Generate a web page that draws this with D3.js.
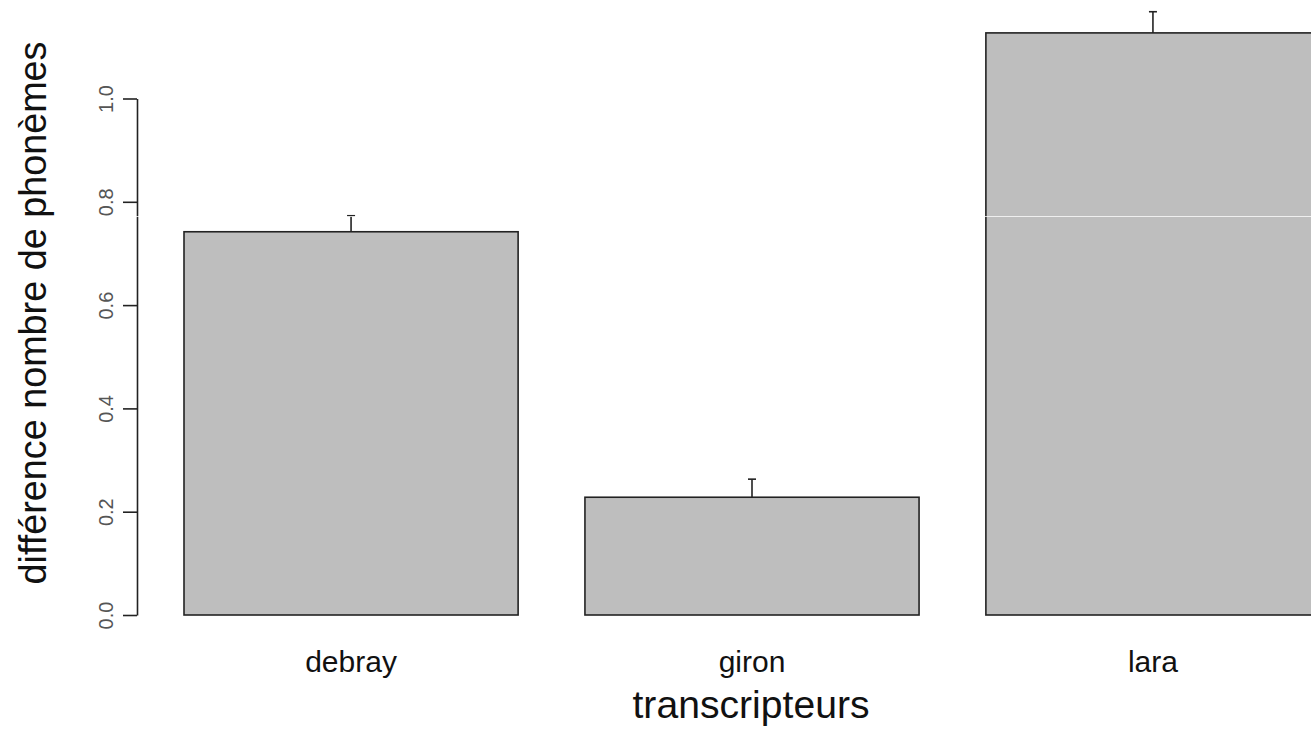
<!DOCTYPE html>
<html>
<head>
<meta charset="utf-8">
<script src="https://cdn.jsdelivr.net/npm/d3@7"></script>
<style>
  html, body { margin: 0; padding: 0; background: #fff; }
  svg { display: block; }
  text { font-family: "Liberation Sans", Arial, sans-serif; }
</style>
</head>
<body>
<svg id="chart" width="1311" height="748"></svg>
<script>
// ---- data ----
const categories = ["debray", "giron", "lara"];
const means = [0.742, 0.228, 1.127];
const errors = [0.031, 0.035, 0.041];
const yTicks = [0.0, 0.2, 0.4, 0.6, 0.8, 1.0];
const yTickLabels = ["0.0", "0.2", "0.4", "0.6", "0.8", "1.0"];
const xTitle = "transcripteurs";
const yTitle = "différence nombre de phonèmes";

// ---- layout ----
const W = 1311, H = 748;
const svg = d3.select("#chart");
svg.append("rect").attr("width", W).attr("height", H).attr("fill", "#fff");

const x = d3.scaleBand()
  .domain(categories)
  .range([184, 1320])
  .paddingInner(0.2 / 1.2)
  .paddingOuter(0);

const y = d3.scaleLinear()
  .domain([0, 1])
  .range([615, 98.5]);

const data = categories.map((c, i) => ({ cat: c, mean: means[i], err: errors[i] }));

// bars
svg.append("g").selectAll("rect")
  .data(data)
  .join("rect")
  .attr("x", d => x(d.cat))
  .attr("y", d => y(d.mean))
  .attr("width", x.bandwidth())
  .attr("height", d => y(0) - y(d.mean))
  .attr("fill", "#bebebe")
  .attr("stroke", "#222")
  .attr("stroke-width", 1.6);

// error bars (upper only)
const eb = svg.append("g").attr("stroke", "#222").attr("stroke-width", 1.6);
eb.selectAll("line.v")
  .data(data)
  .join("line")
  .attr("class", "v")
  .attr("x1", d => x(d.cat) + x.bandwidth() / 2)
  .attr("x2", d => x(d.cat) + x.bandwidth() / 2)
  .attr("y1", d => y(d.mean))
  .attr("y2", d => y(d.mean + d.err));
eb.selectAll("line.c")
  .data(data)
  .join("line")
  .attr("class", "c")
  .attr("x1", d => x(d.cat) + x.bandwidth() / 2 - 4)
  .attr("x2", d => x(d.cat) + x.bandwidth() / 2 + 4)
  .attr("y1", d => y(d.mean + d.err))
  .attr("y2", d => y(d.mean + d.err));

// y axis
const yAxis = d3.axisLeft(y)
  .tickValues(yTicks)
  .tickFormat((d, i) => yTickLabels[i])
  .tickSizeInner(14)
  .tickSizeOuter(0);
const gy = svg.append("g").attr("transform", "translate(137,0)").call(yAxis);
gy.select(".domain").attr("stroke", "#222").attr("stroke-width", 1.6);
gy.selectAll(".tick line").attr("stroke", "#222").attr("stroke-width", 1.6);
gy.selectAll(".tick text")
  .attr("x", null).attr("dy", null)
  .attr("transform", "translate(-24,0) rotate(-90)")
  .attr("text-anchor", "middle")
  .attr("fill", "#555")
  .style("font-size", "20px")
  .style("font-family", "'Liberation Sans', Arial, sans-serif");

// x category labels
svg.append("g").selectAll("text")
  .data(categories)
  .join("text")
  .attr("x", d => x(d) + x.bandwidth() / 2)
  .attr("y", 672)
  .attr("text-anchor", "middle")
  .attr("fill", "#111")
  .style("font-size", "30px")
  .text(d => d);

// axis titles
svg.append("text")
  .attr("x", 751)
  .attr("y", 718)
  .attr("text-anchor", "middle")
  .attr("fill", "#111")
  .attr("textLength", 237)
  .attr("lengthAdjust", "spacingAndGlyphs")
  .style("font-size", "39px")
  .text(xTitle);

svg.append("text")
  .attr("transform", "translate(46,313) rotate(-90)")
  .attr("text-anchor", "middle")
  .attr("fill", "#111")
  .attr("textLength", 543)
  .attr("lengthAdjust", "spacingAndGlyphs")
  .style("font-size", "39px")
  .text(yTitle);

// faint rendering seam seen in the reference
svg.append("line")
  .attr("x1", 0).attr("x2", W)
  .attr("y1", 216.5).attr("y2", 216.5)
  .attr("stroke", "#fff").attr("stroke-opacity", 0.75).attr("stroke-width", 1);
</script>
</body>
</html>
